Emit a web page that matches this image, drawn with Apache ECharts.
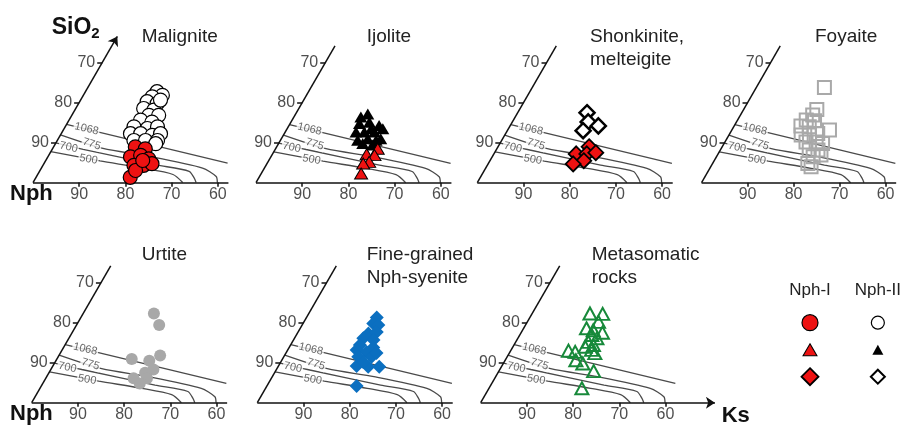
<!DOCTYPE html>
<html>
<head>
<meta charset="utf-8">
<script src="https://cdn.jsdelivr.net/npm/echarts@6/dist/echarts.min.js"></script>
<style>
html,body{margin:0;padding:0;background:#fff}
#main{width:904px;height:426px}
</style>
</head>
<body>
<div id="main"></div>
<script>
// points are [Ks, SiO2] in %, Nph = 100 - Ks - SiO2
var malII = [[15.5,22.7],[17.1,21.8],[15.1,21.4],[14.6,20.2],[17.0,19.7],[14.7,18.5],[17.1,18.1],[17.3,20.6],[16.7,16.8],[18.8,16.8],[15.5,15.6],[18.2,15.1],[14.9,13.9],[18.0,13.5],[20.0,13.9],[15.0,12.2],[17.2,12.2],[19.9,11.8],[21.5,12.2],[16.6,10.5],[19.1,10.5],[21.7,10.5],[21.7,9.7]];
var malI = [[17.7,8.9],[20.1,8.4],[17.9,6.4],[19.9,6.8],[22.1,5.9],[19.7,4.3],[21.8,4.3],[23.4,4.7],[20.4,1.3],[20.7,3.0],[21.0,5.5]];
var ijoII = [[15.6,17.2],[15.0,14.8],[17.0,15.1],[19.5,14.3],[15.3,12.7],[17.1,12.7],[19.3,12.7],[20.7,13.5],[16.7,10.6],[18.7,11.0],[20.7,10.6],[18.2,9.8],[20.5,9.4],[21.5,11.0],[18.2,13.5],[14.5,16.4]];
var ijoI = [[22.1,8.5],[20.4,7.1],[22.2,6.9],[21.9,5.2],[20.8,4.8],[21.6,2.3]];
var shoII = [[15.0,17.5],[16.4,15.2],[19.1,14.2],[16.4,13.0]];
var shoI = [[19.7,9.0],[17.8,7.2],[20.1,7.2],[21.9,7.5],[20.3,5.5],[18.4,4.7]];
var foyaite = [[14.8,23.8],[15.9,18.3],[15.7,16.9],[14.9,15.7],[16.8,15.5],[14.5,14.2],[16.4,14.0],[21.2,13.2],[15.7,11.9],[17.5,11.9],[19.1,12.3],[17.6,10.2],[19.8,10.2],[21.4,9.8],[19.3,8.2],[21.2,8.2],[21.0,6.5],[22.5,6.9],[20.7,4.8],[21.8,4.0]];
var urtite = [[15.3,22.3],[17.9,19.4],[21.9,11.8],[16.2,10.9],[20.2,10.5],[22.2,8.3],[20.8,7.5],[19.0,6.1],[21.9,6.1],[21.0,4.8]];
var fineSy = [[15.2,21.3],[15.2,19.8],[16.5,19.4],[15.4,17.3],[17.0,17.7],[14.9,16.1],[17.3,15.7],[15.0,14.4],[18.2,13.8],[14.9,13.2],[17.3,12.7],[16.1,11.5],[19.0,11.5],[19.6,12.4],[16.9,9.2],[19.5,9.0],[21.9,9.0],[17.8,10.2],[19.4,4.2]];
var metaRk = [[12.5,22.3],[15.3,22.2],[15.4,20.2],[13.6,18.6],[15.3,18.1],[17.6,17.5],[15.6,16.9],[17.1,16.1],[15.7,15.2],[17.2,14.4],[15.6,14.0],[17.4,13.2],[14.1,12.7],[12.5,13.0],[18.5,12.4],[15.3,10.6],[17.2,9.8],[20.5,7.9],[20.1,3.6]];

// isotherms, [Ks, SiO2]
var iso1068 = [[0,14.5],[39.7,4.85]];
var iso775 = [[0,11.9],[10.9,8.5],[22.0,6.5],[34.9,3.6],[38.9,1.5],[39.9,0]];
var iso700 = [[0,9.9],[6.7,8.3],[24.5,4.4],[32.4,2.8],[34.3,1.15],[35.3,0]];
var iso500 = [[0,7.7],[11.8,5.4],[22.0,3.6],[29.3,2.0],[32.4,0]];
var isoNames = ['1068','775','700','500'];
var isoLabelAt = [[4.9,13.4],[7.9,9.6],[3.3,8.8],[9.1,5.8]];
var isoLabelRot = [-13,-17,-12,-10];

var bottomTicks = [90,80,70,60];
var sideTicks = [90,80,70];
var legendCols = ['Nph-I','Nph-II'];
var legendRows = ['circle','triangle','diamond'];

var FONT = 'Liberation Sans, Arial, sans-serif';
var S = 4.62;
var R3 = Math.sqrt(3) / 2;
var RED = '#ee1212';

function tern(p) { return [p[0] + p[1] / 2, p[1] * R3]; }

var marks = {
  circI: {symbol:'circle', size:14, color:RED, border:'#000', bw:1.2},
  circII: {symbol:'circle', size:14, color:'#fff', border:'#000', bw:1.2},
  triI: {symbol:'triangle', size:[13,11], color:RED, border:'#000', bw:1},
  triII: {symbol:'triangle', size:[13,11], color:'#000', border:'#000', bw:0},
  diaI: {symbol:'diamond', size:15, color:RED, border:'#000', bw:1.8},
  diaII: {symbol:'diamond', size:15, color:'#fff', border:'#000', bw:2.5},
  sq: {symbol:'rect', size:13, color:'rgba(255,255,255,0)', border:'#a9a9a9', bw:2},
  urt: {symbol:'circle', size:12, color:'#a8a8a8', border:'#a8a8a8', bw:0},
  fine: {symbol:'diamond', size:14, color:'#0b6fc0', border:'#0b6fc0', bw:0},
  meta: {symbol:'triangle', size:[13,12], color:'rgba(255,255,255,0)', border:'#17893a', bw:2}
};

var panels = [
  {title:'Malignite', cx:33, by:182.5, tx:141.7, ty:25, sets:[[malII,'circII'],[malI,'circI']], yArrow:true},
  {title:'Ijolite', cx:256, by:182.7, tx:366.7, ty:25, sets:[[ijoII,'triII'],[ijoI,'triI']]},
  {title:'Shonkinite,\nmelteigite', cx:477.3, by:182.7, tx:590, ty:25, sets:[[shoII,'diaII'],[shoI,'diaI']]},
  {title:'Foyaite', cx:701.7, by:182.7, tx:815, ty:25, sets:[[foyaite,'sq']]},
  {title:'Urtite', cx:31.7, by:402.7, tx:141.7, ty:243, sets:[[urtite,'urt']]},
  {title:'Fine-grained\nNph-syenite', cx:257.3, by:402.7, tx:366.7, ty:243, sets:[[fineSy,'fine']]},
  {title:'Metasomatic\nrocks', cx:480.7, by:402.7, tx:591.7, ty:243, sets:[[metaRk,'meta']], xArrow:true}
];

var XMIN = -6, YMIN = -4, YMAX = 38;
var grids = [], xAxes = [], yAxes = [], series = [], titles = [];

panels.forEach(function(p, i) {
  var xmax = p.xArrow ? 52 : 44;
  grids.push({left:p.cx + XMIN * S, top:p.by - YMAX * S, width:(xmax - XMIN) * S, height:(YMAX - YMIN) * S});
  xAxes.push({type:'value', gridIndex:i, min:XMIN, max:xmax, show:false});
  yAxes.push({type:'value', gridIndex:i, min:YMIN, max:YMAX, show:false});
  titles.push({text:p.title, left:p.tx, top:p.ty, padding:0,
    textStyle:{fontFamily:FONT, fontSize:19, fontWeight:'normal', color:'#222', lineHeight:23}});

  var ax = {xAxisIndex:i, yAxisIndex:i, silent:true, animation:false};

  // isotherms
  [iso1068, iso775, iso700, iso500].forEach(function(iso) {
    series.push(Object.assign({type:'line', data:iso.map(tern), symbol:'none', smooth:0.25,
      lineStyle:{color:'#4a4a4a', width:1.3}, z:2}, ax));
  });
  series.push(Object.assign({type:'scatter', symbolSize:0, z:3,
    data:isoNames.map(function(n, k) {
      return {value:tern(isoLabelAt[k]), name:n,
        label:{show:true, position:'inside', formatter:n, rotate:isoLabelRot[k], fontFamily:FONT,
          fontSize:11, color:'#444', backgroundColor:'#fff', padding:[0,1]}};
    })}, ax));

  // frame
  var baseEnd = p.xArrow ? 50.7 : 42.3;
  var sideEnd = p.yArrow ? 36.5 : 34.2;
  var plain = [], arrows = [];
  (p.xArrow ? arrows : plain).push({coords:[tern([0,0]), tern([baseEnd,0])]});
  (p.yArrow ? arrows : plain).push({coords:[tern([0,0]), tern([0,sideEnd])]});
  bottomTicks.forEach(function(n) {
    var a = tern([100 - n, 0]);
    plain.push({coords:[a, [a[0], -0.9]]});
  });
  sideTicks.forEach(function(n) {
    var a = tern([0, 100 - n]);
    plain.push({coords:[a, [a[0] - 1.1, a[1]]]});
  });
  series.push(Object.assign({type:'lines', coordinateSystem:'cartesian2d', data:plain, z:4,
    lineStyle:{color:'#111', width:1.5, opacity:1}}, ax));
  if (arrows.length) {
    series.push(Object.assign({type:'lines', coordinateSystem:'cartesian2d', data:arrows, z:4,
      symbol:['none','arrow'], symbolSize:9, lineStyle:{color:'#111', width:1.5, opacity:1}}, ax));
  }

  // tick labels
  series.push(Object.assign({type:'scatter', symbolSize:0, z:4,
    data:bottomTicks.map(function(n) { return {value:tern([100 - n, 0]), name:String(n)}; }),
    label:{show:true, position:'bottom', distance:4, formatter:'{b}', fontFamily:FONT, fontSize:16, color:'#222'}}, ax));
  series.push(Object.assign({type:'scatter', symbolSize:0, z:4,
    data:sideTicks.map(function(n) { var a = tern([0, 100 - n]); return {value:[a[0] - 1.1, a[1]], name:String(n)}; }),
    label:{show:true, position:'left', distance:2, formatter:'{b}', fontFamily:FONT, fontSize:16, color:'#222'}}, ax));

  // samples
  p.sets.forEach(function(set, k) {
    var m = marks[set[1]];
    series.push(Object.assign({type:'scatter', data:set[0].map(tern), symbol:m.symbol, symbolSize:m.size, z:5 + k,
      itemStyle:{color:m.color, borderColor:m.border, borderWidth:m.bw, opacity:1}}, ax));
  });
});

// legend block
var li = panels.length;
grids.push({left:810, top:322.7, width:68.3, height:54});
xAxes.push({type:'category', gridIndex:li, data:legendCols, position:'top', boundaryGap:false,
  axisLine:{show:false}, axisTick:{show:false}, splitLine:{show:false},
  axisLabel:{fontFamily:FONT, fontSize:17, color:'#222', margin:24, interval:0}});
yAxes.push({type:'category', gridIndex:li, data:legendRows, inverse:true, boundaryGap:false, show:false});
var legendKeys = [['circI','triI','diaI'], ['circII','triII','diaII']];
var legendSizes = [[16,[14,12],17], [13,[11,10],14]];
var legendData = [];
legendCols.forEach(function(c, ci) {
  legendRows.forEach(function(r, ri) {
    var m = marks[legendKeys[ci][ri]];
    legendData.push({value:[c, r], symbol:m.symbol, symbolSize:legendSizes[ci][ri],
      itemStyle:{color:m.color, borderColor:m.border, borderWidth:Math.min(m.bw, 2), opacity:1}});
  });
});
series.push({type:'scatter', xAxisIndex:li, yAxisIndex:li, data:legendData, silent:true});

titles.push({text:'{a|SiO}{b|2}', left:51.7, top:15, padding:0,
  textStyle:{fontFamily:FONT, rich:{
    a:{fontFamily:FONT, fontSize:23, fontWeight:'bold', color:'#111', lineHeight:26},
    b:{fontFamily:FONT, fontSize:15, fontWeight:'bold', color:'#111', lineHeight:14, verticalAlign:'bottom'}}}});
[['Nph', 10, 183], ['Nph', 10, 403], ['Ks', 721.7, 405]].forEach(function(t) {
  titles.push({text:t[0], left:t[1], top:t[2], padding:0,
    textStyle:{fontFamily:FONT, fontSize:22, fontWeight:'bold', color:'#111'}});
});

var chart = echarts.init(document.getElementById('main'));
chart.setOption({
  animation:false,
  backgroundColor:'#fff',
  title:titles,
  grid:grids,
  xAxis:xAxes,
  yAxis:yAxes,
  series:series
});
</script>
</body>
</html>
